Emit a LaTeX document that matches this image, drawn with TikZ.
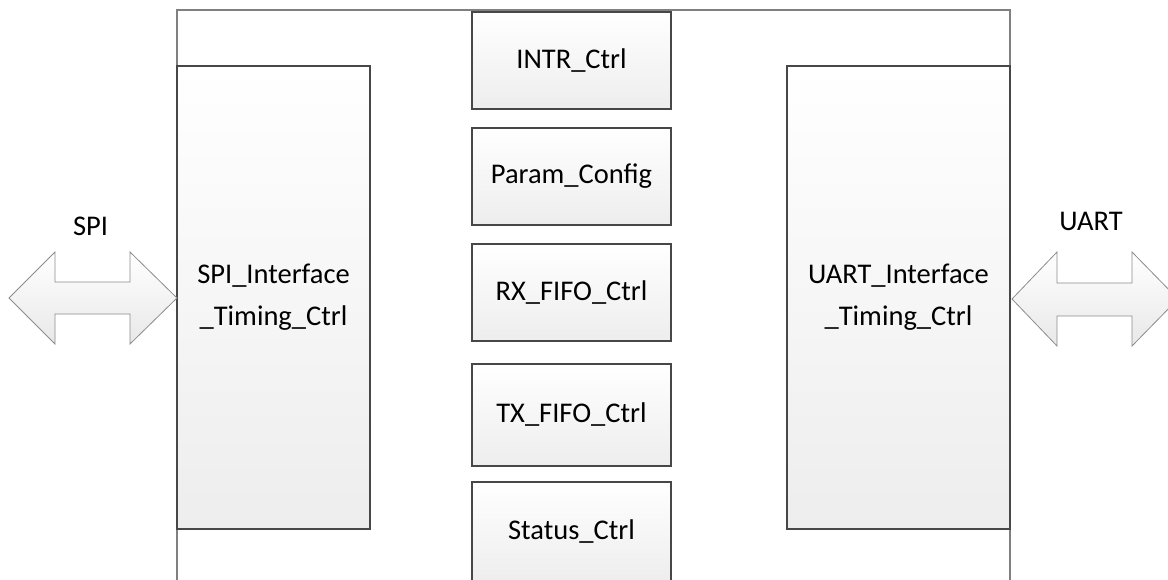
\documentclass[tikz,border=0pt]{standalone}
\usepackage{fontspec}
\setmainfont{Carlito}
\usetikzlibrary{shadows}
\begin{document}
\begin{tikzpicture}[x=1pt,y=-1pt,
  blk/.style={draw=black!72, line width=1.2pt,
    top color=white, bottom color=black!7,
    drop shadow={shadow xshift=1.2pt, shadow yshift=-1.2pt, fill=black!18, opacity=1},
    inner sep=0pt, align=center,
    font=\fontsize{28.5}{42}\selectfont},
  frame/.style={draw=black!50, line width=1.3pt},
  bus/.style={draw=black!45, line width=0.8pt, top color=white, bottom color=black!9},
  lbl/.style={font=\fontsize{28.5}{32}\selectfont, inner sep=0pt}]
\useasboundingbox (0,0) rectangle (1168,580);
\clip (0,0) rectangle (1168,580);

% outer frame, open at the bottom
\draw[frame] (177,600) -- (177,10) -- (1010,10) -- (1010,600);

% interface timing blocks
\node[blk, minimum width=193pt, minimum height=463pt] (spi) at (273.5,297.5)
  {SPI\_Interface\\\_Timing\_Ctrl};
\node[blk, minimum width=223pt, minimum height=463pt] (uart) at (898.5,297.5)
  {UART\_Interface\\\_Timing\_Ctrl};

% central control blocks
\node[blk, minimum width=199pt, minimum height=97pt]  (intr)   at (571.5,60.5)  {INTR\_Ctrl};
\node[blk, minimum width=199pt, minimum height=97pt]  (param)  at (571.5,176.5) {Param\_Config};
\node[blk, minimum width=199pt, minimum height=97pt]  (rx)     at (571.5,292.5) {RX\_FIFO\_Ctrl};
\node[blk, minimum width=199pt, minimum height=102pt] (tx)     at (571.5,415)   {TX\_FIFO\_Ctrl};
\node[blk, minimum width=199pt, minimum height=100pt] (status) at (571.5,532)   {Status\_Ctrl};

% external bus arrows
\path[bus] (9,298) -- (55,252) -- (55,282) -- (130,282) -- (130,252) -- (177,298)
  -- (130,344) -- (130,314) -- (55,314) -- (55,344) -- cycle;
\path[bus] (1012,299) -- (1057,252) -- (1057,283) -- (1132,283) -- (1132,252) -- (1178,299)
  -- (1132,346) -- (1132,316) -- (1057,316) -- (1057,346) -- cycle;

\node[lbl] (spilbl)  at (90.5,226) {SPI};
\node[lbl] (uartlbl) at (1091,221) {UART};
\end{tikzpicture}
\end{document}
